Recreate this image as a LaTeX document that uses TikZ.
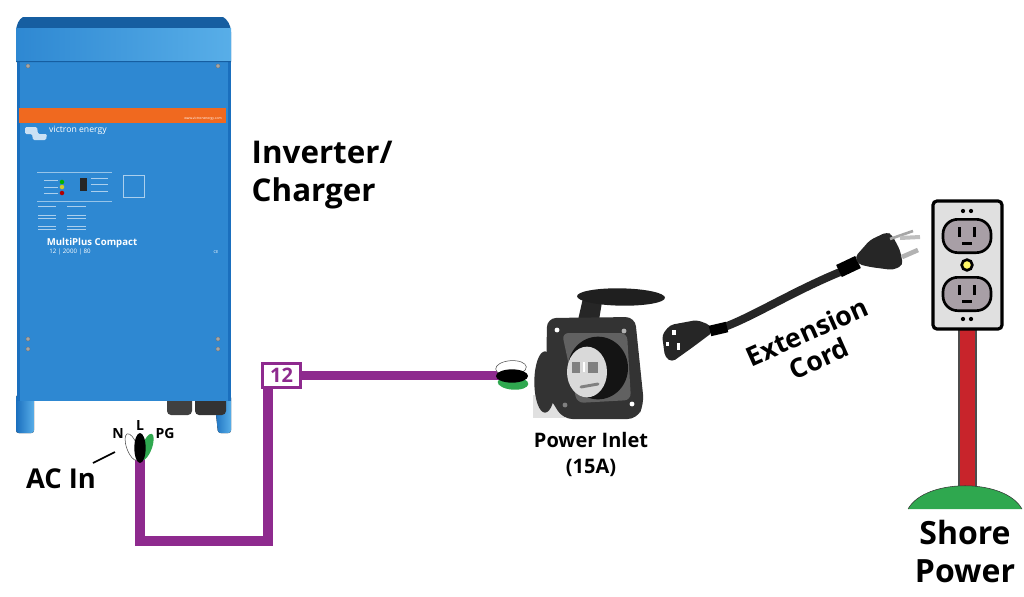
\documentclass[tikz,border=0pt]{standalone}
\usepackage{fontspec}
\setmainfont{Open Sans}
\usetikzlibrary{shapes.geometric}
\definecolor{wirepurple}{HTML}{8E2A8E}
\definecolor{caseblue}{HTML}{2E88D2}
\definecolor{casedark}{HTML}{1A6FBE}
\definecolor{caselight}{HTML}{58AEE8}
\definecolor{bandorange}{HTML}{F0691F}
\definecolor{groundgreen}{HTML}{2FA84F}
\definecolor{postred}{HTML}{C8242B}
\definecolor{plateplum}{HTML}{A89FA6}
\tikzset{
  bigtext/.style={font=\bfseries\fontsize{23.5}{28}\selectfont,align=left,text=black},
  midtext/.style={font=\bfseries\fontsize{15}{20}\selectfont,align=center,text=black},
  lugtext/.style={font=\bfseries\fontsize{10.5}{12}\selectfont,inner sep=0pt},
  wire/.style={wirepurple,line width=6.8pt},
  screw/.style={circle,fill=gray!70,draw=black!60,line width=.2pt,inner sep=1.1pt},
  platescrew/.style={circle,inner sep=1.3pt},
  led/.style={circle,inner sep=1.2pt},
  lug/.style={ellipse,inner sep=0pt},
  socket/.style={draw=black,line width=2pt,fill=plateplum,rounded corners=11pt,minimum width=36pt,minimum height=25pt},
  panelline/.style={white!60!caseblue,line width=.5pt},
}
\begin{document}
\begin{tikzpicture}[x=.75pt,y=-.75pt]
  \useasboundingbox (0,0) rectangle (1024,596);

  % inverter case
  \fill[left color=casedark,right color=caselight,rounded corners=2pt] (16,395) -- (16,433) -- (34,433) -- (34,395) -- cycle;
  \fill[left color=casedark,right color=caselight,rounded corners=2pt] (214,395) -- (218,433) -- (231,433) -- (231,395) -- cycle;
  \fill[black!75,rounded corners=3pt] (167,395) rectangle (192,415);
  \fill[black!80,rounded corners=3pt] (195,395) rectangle (226,415);
  \fill[caseblue] (17,60) rectangle (231,401);
  \fill[casedark] (17,60) rectangle (20,401);
  \fill[casedark] (228,60) rectangle (231,401);
  \fill[casedark!85!black] (16,62) -- (16,32) .. controls (16,25) and (19,19) .. (23,17) -- (223,17) .. controls (227,19) and (231,25) .. (231,32) -- (231,62) -- cycle;
  \fill[left color=caseblue,right color=caselight] (16,28) rectangle (231,60);
  \fill[bandorange] (19,108) rectangle (226,123);
  \node[text=white,font=\fontsize{2.5}{3}\selectfont,inner sep=0pt] (site) at (203,119) {www.victronenergy.com};

  \foreach \sx/\sy in {28/66,218/66,28/339,28/349,218/339,218/349}
    \node[screw] at (\sx,\sy) {};

  % front panel
  \fill[white!75!caseblue,rounded corners=1pt] (25,127) -- (37,127) -- (38,134) -- (47,134) -- (46,140) -- (33,140) -- (32,134) -- (25,134) -- cycle;
  \node[text=white,font=\fontsize{6.5}{7}\selectfont,inner sep=0pt] (brand) at (78,130) {victron energy};
  \draw[white!50!caseblue,line width=.3pt] (37,172) -- (112,172);
  \draw[white!50!caseblue,line width=.3pt] (37,201) -- (112,201);
  \foreach \ly in {206,215,218,226,229}
    \draw[panelline] (38,\ly) -- (56,\ly) (67,\ly) -- (86,\ly);
  \foreach \ly in {180,187,193}
    \draw[panelline] (44,\ly) -- (58,\ly);
  \foreach \ly in {178,184,191}
    \draw[panelline] (91,\ly) -- (108,\ly);
  \node[led,fill=green!70!black] at (62,182) {};
  \node[led,fill=yellow!80!black] at (62,187) {};
  \node[led,fill=red!70!black] at (62,193) {};
  \fill[black!85] (80,178) rectangle (87,191);
  \draw[white!60!caseblue,line width=.3pt] (123,175) rectangle (144,197);
  \node[text=white,font=\bfseries\fontsize{7.2}{8}\selectfont,inner sep=0pt] (model) at (92,243) {MultiPlus Compact};
  \node[text=white,font=\fontsize{4.6}{5}\selectfont,inner sep=0pt] (rating) at (70,252) {12 | 2000 | 80};
  \node[text=white,font=\fontsize{3}{4}\selectfont,inner sep=0pt] (mark) at (216,252) {CE};

  \node[bigtext,anchor=west] (title) at (247,175) {Inverter/\\Charger};

  % wires
  \node[draw=wirepurple,line width=2.4pt,fill=white,text=wirepurple,font=\bfseries\fontsize{15}{16}\selectfont,minimum width=28pt,minimum height=18pt,inner sep=0pt] (gauge) at (281.5,375.5) {12};
  \coordinate (acend) at (140,455);
  \coordinate (inend) at (505,375.5);
  \coordinate (lowcorner) at (268,541);
  \draw[wire,line join=miter] (acend) |- (lowcorner) -- (gauge.south -| lowcorner);
  \draw[wire] (gauge.east) -- (inend);

  % ac in lugs
  \node[lug,draw=black!70,fill=white,line width=.4pt,minimum width=8pt,minimum height=21pt,rotate=20] (lugN) at (132,447) {};
  \node[lug,fill=groundgreen,minimum width=7.5pt,minimum height=21pt,rotate=-20] (lugPG) at (147,447) {};
  \node[lug,fill=black,minimum width=8.5pt,minimum height=22.5pt] (lugL) at (140,448) {};
  \node[lugtext] (labN) at (118,433) {N};
  \node[lugtext] (labL) at (140,425) {L};
  \node[lugtext] (labPG) at (165,433) {PG};
  \coordinate (tickend) at (115,452);
  \coordinate (tickstart) at (93,463);
  \draw[black,line width=1.2pt] (tickstart) -- (tickend);
  \node[font=\bfseries\fontsize{20.5}{22}\selectfont] (acin) at (61,479) {AC In};

  % inlet lugs
  \node[lug,draw=black!70,fill=white,line width=.4pt,minimum width=23pt,minimum height=11pt,rotate=4] (inN) at (511,368) {};
  \node[lug,fill=groundgreen,minimum width=23pt,minimum height=10pt,rotate=-4] (inPG) at (513,383) {};
  \node[lug,fill=black,minimum width=24pt,minimum height=10pt] (inL) at (512,376) {};

  % power inlet
  \fill[black!12] (533,395) rectangle (565,418);
  \node[ellipse,fill=black!80,minimum width=16pt,minimum height=46pt,inner sep=0pt] (barrel) at (545,382) {};
  \fill[black!85] (578,320) -- (583,298) -- (602,302) -- (599,320) -- cycle;
  \node[ellipse,fill=black!88,minimum width=66pt,minimum height=13pt,inner sep=0pt,rotate=-1] (lid) at (621,297) {};
  \fill[black!80,rounded corners=7pt] (547,318) -- (635,317) -- (644,404) -- (637,419) -- (563,419) -- (546,392) -- cycle;
  \fill[black!62,rounded corners=5pt] (562,333) -- (627,333) -- (631,400) -- (577,403) -- cycle;
  \node[ellipse,fill=black!92,minimum width=45pt,minimum height=47pt,inner sep=0pt] (ring) at (598,368) {};
  \node[ellipse,fill=black!15,minimum width=30pt,minimum height=38pt,inner sep=0pt] (face) at (587,372) {};
  \fill[gray] (572,362) rectangle (580,373);
  \fill[gray] (588,362) rectangle (598,373);
  \fill[white] (583,362) rectangle (585,372);
  \draw[gray,line width=2.2pt,line cap=round] (581,387) -- (598,384);
  \node[platescrew,fill=white] at (557,330) {};
  \node[platescrew,fill=white!70!black] at (624,331) {};
  \node[platescrew,fill=white!50!black] at (565,405) {};
  \node[platescrew,fill=white] at (632,404) {};
  \node[midtext] (inlet) at (591,454.5) {Power Inlet\\(15A)};

  % extension cord
  \coordinate (cordA) at (715,330);
  \coordinate (cordB) at (845,270);
  \draw[black!85,line width=6pt] (cordA) .. controls (745,322) and (790,292) .. (cordB);
  \fill[black!85,rounded corners=3pt] (662,335) -- (670,325) -- (697,320) -- (710,325) -- (713,332) -- (693,347) -- (672,362) -- (665,357) -- cycle;
  \fill[white] (672,330) rectangle (676,335);
  \fill[white] (666,342) rectangle (668.5,346);
  \fill[white] (677,343) rectangle (679.5,350);
  \draw[black,line width=8pt] (710,331) -- (727,327);
  \draw[black,line width=10pt] (839,271) -- (858,262);
  \fill[black!85,rounded corners=3pt] (855,257) -- (870,240) -- (887,232) -- (892,235) -- (900,250) -- (903,265) -- (893,270) -- (870,267) -- (858,264) -- cycle;
  \draw[gray!70,line width=2pt] (890,239) -- (913,231);
  \draw[gray!50,line width=3pt] (900,238) -- (920,237);
  \draw[gray!60,line width=3.5pt] (902,257) -- (918,250);
  \node[font=\bfseries\fontsize{20}{22}\selectfont,align=center,rotate=24] (cordtxt) at (813,345) {Extension\\Cord};

  % outlet and post
  \fill[postred] (959,329) rectangle (976,488);
  \draw[black!70,line width=.8pt] (959,329) -- (959,488) (976,329) -- (976,488);
  \fill[groundgreen] (908,509) .. controls (925,478) and (1005,478) .. (1022,509) -- cycle;
  \draw[black!80,line width=.4pt] (908,509) .. controls (925,478) and (1005,478) .. (1022,509);
  \draw[black,line width=2.4pt,fill=black!12,rounded corners=3pt] (933,201) rectangle (1002,329);
  \node[socket] (topsock) at (967,236) {};
  \node[socket] (botsock) at (967,294) {};
  \foreach \sock in {topsock,botsock}{
    \fill[black] ([shift={(-6.8pt,-1pt)}]\sock.center) rectangle ++(2.2pt,7.5pt);
    \fill[black] ([shift={(4.8pt,-1pt)}]\sock.center) rectangle ++(2.2pt,7.5pt);
    \fill[black] ([shift={(-4pt,-6.6pt)}]\sock.center) rectangle ++(8pt,1.8pt);
  }
  \node[circle,fill=yellow!60,draw=black,line width=2pt,minimum size=8pt,inner sep=0pt] (bolt) at (967,265) {};
  \foreach \dy in {211,319}{
    \fill[black] (963,\dy) circle (1.6pt);
    \fill[black] (971,\dy) circle (1.6pt);
  }
  \node[font=\bfseries\fontsize{24}{28.5}\selectfont,align=center] (shore) at (965,551) {Shore\\Power};
\end{tikzpicture}
\end{document}
